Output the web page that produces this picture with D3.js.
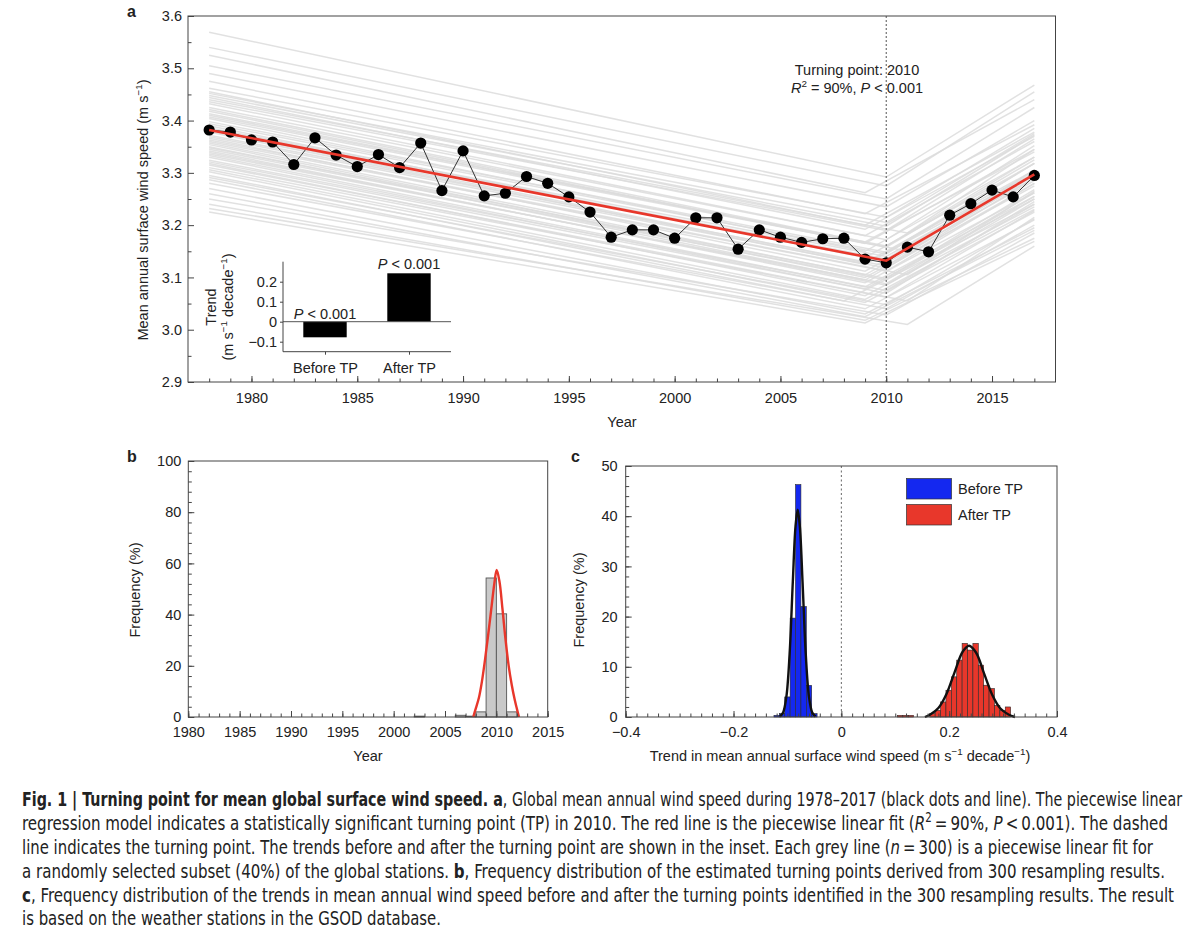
<!DOCTYPE html>
<html>
<head>
<meta charset="utf-8">
<script src="https://cdn.jsdelivr.net/npm/d3@7"></script>
<style>
body { margin: 0; background: #fff; }
svg text { font-family: "Liberation Sans", Arial, Helvetica, sans-serif; fill: #222; }
.tick text { font-size: 14.5px; }
.cap { font-family: "Liberation Sans Narrow", "DejaVu Sans Condensed", "Liberation Sans", sans-serif !important; font-size: 19.5px; }
</style>
</head>
<body>
<svg id="fig" width="1200" height="935"></svg>
<script>
// ---- panel a: global mean wind speed
var years = [1978,1979,1980,1981,1982,1983,1984,1985,1986,1987,1988,1989,1990,1991,1992,1993,1994,1995,1996,1997,
             1998,1999,2000,2001,2002,2003,2004,2005,2006,2007,2008,2009,2010,2011,2012,2013,2014,2015,2016,2017];
var windSpeed = [3.382,3.378,3.363,3.359,3.316,3.367,3.334,3.312,3.335,3.310,3.357,3.266,3.342,3.256,3.261,3.293,3.280,3.254,3.225,3.177,
                 3.191,3.191,3.175,3.214,3.214,3.154,3.191,3.177,3.167,3.174,3.175,3.135,3.128,3.158,3.149,3.219,3.241,3.267,3.254,3.295];
var fitYears = [1978, 2010, 2017];
var fitValues = [3.382, 3.132, 3.297];
var turningPoint = 2010;

// grey resampled piecewise fits (start 1978, turning point, end 2017)
var greyStart = [3.569,3.540,3.525,3.505,3.490,3.475,3.462,3.455,3.448,3.440,3.432,3.425,3.418,3.410,3.404,3.398,3.390,3.384,3.378,3.372,
                 3.366,3.360,3.354,3.348,3.342,3.336,3.330,3.324,3.318,3.310,3.302,3.295,3.287,3.280,3.270,3.260,3.250,3.240,3.225,3.232,
                 3.452,3.436,3.421,3.407,3.394,3.381,3.369,3.357,3.345,3.333,3.321,3.306,3.291,3.444,3.413,3.386,3.363,3.339,3.315,3.350];
var greyTP    = [2010,2010,2009,2010,2010,2009,2010,2009,2010,2011,2009,2010,2009,2010,2009,2010,2009,2010,2009,2010,
                 2009,2010,2009,2010,2009,2010,2009,2010,2009,2010,2009,2008,2009,2010,2009,2009,2010,2009,2009,2011,
                 2010,2010,2009,2010,2010,2009,2010,2009,2010,2009,2010,2009,2010,2009,2011,2010,2011,2010,2011,2009];
var greyTurn  = [3.292,3.275,3.262,3.250,3.235,3.222,3.215,3.200,3.198,3.185,3.180,3.172,3.165,3.160,3.150,3.148,3.138,3.135,3.125,3.122,
                 3.112,3.112,3.100,3.098,3.090,3.088,3.078,3.075,3.065,3.062,3.052,3.055,3.040,3.040,3.030,3.025,3.028,3.018,3.013,3.010,
                 3.205,3.190,3.168,3.158,3.145,3.128,3.118,3.105,3.095,3.082,3.070,3.058,3.048,3.192,3.150,3.140,3.105,3.085,3.055,3.095];
var greyEnd   = [3.468,3.455,3.440,3.425,3.400,3.392,3.385,3.378,3.372,3.345,3.360,3.352,3.345,3.330,3.330,3.318,3.318,3.305,3.300,3.295,
                 3.290,3.280,3.275,3.268,3.262,3.255,3.250,3.240,3.235,3.228,3.225,3.240,3.210,3.200,3.195,3.190,3.185,3.175,3.169,3.160,
                 3.375,3.365,3.340,3.325,3.318,3.305,3.290,3.285,3.262,3.255,3.245,3.230,3.212,3.370,3.305,3.298,3.265,3.250,3.215,3.280];

// inset
var trendLabels = ["Before TP", "After TP"];
var trendValues = [-0.078, 0.242];

// ---- panel b: turning point histogram
var tpBinStart = [2002, 2006, 2007, 2008, 2009, 2010, 2011];
var tpFreq     = [0.33, 0.67, 0.33, 2.0, 54.3, 40.3, 2.0];
var tpCurveX = [2007.75,2008.0,2008.3,2008.6,2008.9,2009.2,2009.5,2009.8,2010.03,2010.3,2010.6,2010.9,2011.2,2011.5,2011.8,2012.0,2012.2];
var tpCurveY = [0, 3.4, 7.5, 14, 22.5, 32, 42, 52, 57.4, 53, 42, 30, 20, 12.5, 6.5, 3.2, 0];

// ---- panel c: trend histograms
var binWidth = 0.01;
var beforeBinStart = [-0.125,-0.115,-0.105,-0.095,-0.085,-0.075,-0.065,-0.055];
var beforeFreq     = [0.33, 0.67, 4.0, 19.7, 46.3, 22.0, 6.3, 0.67];
var afterBinStart  = [0.104,0.114,0.124,0.164,0.174,0.184,0.194,0.204,0.214,0.224,0.234,0.244,0.254,0.264,0.274,0.284,0.294,0.304];
var afterFreq      = [0.33,0.33,0.33,0.67,1.33,3.0,5.33,8.0,11.33,14.67,13.33,14.67,10.33,6.33,5.67,2.33,1.33,2.0];
var beforeCurveX = [-0.114,-0.108,-0.102,-0.096,-0.090,-0.085,-0.081,-0.077,-0.072,-0.066,-0.060,-0.054,-0.048];
var beforeCurveY = [0.1, 0.9, 4, 12.5, 27, 38, 41.3, 38, 27, 12.5, 4, 0.9, 0.1];
var afterCurveX = [0.155,0.165,0.18,0.195,0.21,0.225,0.237,0.25,0.265,0.28,0.295,0.31,0.322];
var afterCurveY = [0, 0.5, 1.8, 4.6, 8.9, 13, 14.2, 12.8, 8.6, 4.4, 1.7, 0.5, 0];

var blue = "#1428f0", red = "#e8372b", axisCol = "#444";

var svg = d3.select("#fig");

function rich(sel, parts, fs) {
  var shift = 0;
  parts.forEach(function(p) {
    var t = sel.append("tspan").text(p[0]);
    if (p[1] === "b") t.attr("font-weight", "bold");
    if (p[1] === "i") t.attr("font-style", "italic");
    if (p[1] === "sup") { t.attr("dy", -0.42 * fs).attr("font-size", fs * 0.68); shift += 0.42 * fs; }
    else if (shift) { t.attr("dy", shift); shift = 0; }
  });
  return sel;
}

function frame(x, y) {
  svg.append("rect")
    .attr("x", x.range()[0]).attr("y", y.range()[1])
    .attr("width", x.range()[1] - x.range()[0]).attr("height", y.range()[0] - y.range()[1])
    .attr("fill", "none").attr("stroke", axisCol).attr("stroke-width", 1);
}

function axes(x, y, o) {
  var bottom = y.range()[0], left = x.range()[0];
  svg.append("g").attr("transform", "translate(0," + bottom + ")").attr("color", axisCol)
    .call(d3.axisBottom(x).tickValues(o.xMinor).tickSize(-3.5).tickFormat(""))
    .call(function(g) { g.select(".domain").remove(); });
  svg.append("g").attr("transform", "translate(0," + bottom + ")").attr("color", axisCol)
    .call(d3.axisBottom(x).tickValues(o.xMajor).tickSize(-6).tickPadding(o.xPad).tickFormat(o.xFmt))
    .call(function(g) { g.select(".domain").remove(); });
  svg.append("g").attr("transform", "translate(" + left + ",0)").attr("color", axisCol)
    .call(d3.axisLeft(y).tickValues(o.yMinor).tickSize(-3.5).tickFormat(""))
    .call(function(g) { g.select(".domain").remove(); });
  svg.append("g").attr("transform", "translate(" + left + ",0)").attr("color", axisCol)
    .call(d3.axisLeft(y).tickValues(o.yMajor).tickSize(-6).tickPadding(o.yPad).tickFormat(o.yFmt))
    .call(function(g) { g.select(".domain").remove(); });
}

var minus = function(f) { return function(d) { return f(d).replace("-", "\u2212"); }; };

// ================= panel a =================
var xA = d3.scaleLinear().domain([1977, 2018]).range([188, 1055.5]);
var yA = d3.scaleLinear().domain([2.9, 3.6]).range([382, 16]);
var lineA = d3.line().x(function(d) { return xA(d[0]); }).y(function(d) { return yA(d[1]); });

svg.append("g").selectAll("path").data(greyStart).join("path")
  .attr("d", function(s, i) { return lineA([[1978, s], [greyTP[i], greyTurn[i]], [2017, greyEnd[i]]]); })
  .attr("fill", "none").attr("stroke", "#dcdcdc").attr("stroke-width", 1.5).attr("stroke-opacity", 0.85);

svg.append("line")
  .attr("x1", xA(turningPoint)).attr("x2", xA(turningPoint))
  .attr("y1", yA.range()[1]).attr("y2", yA.range()[0])
  .attr("stroke", "#555").attr("stroke-width", 1).attr("stroke-dasharray", "2,2");

svg.append("path")
  .attr("d", lineA(years.map(function(y, i) { return [y, windSpeed[i]]; })))
  .attr("fill", "none").attr("stroke", "#333").attr("stroke-width", 1);

svg.append("g").selectAll("circle").data(years).join("circle")
  .attr("cx", function(d) { return xA(d); })
  .attr("cy", function(d, i) { return yA(windSpeed[i]); })
  .attr("r", 5.6).attr("fill", "#000");

svg.append("path")
  .attr("d", lineA(fitYears.map(function(y, i) { return [y, fitValues[i]]; })))
  .attr("fill", "none").attr("stroke", red).attr("stroke-width", 2.6);

frame(xA, yA);
axes(xA, yA, {
  xMinor: d3.range(1978, 2018), xMajor: d3.range(1980, 2016, 5), xPad: 11, xFmt: d3.format("d"),
  yMinor: d3.range(2.95, 3.6, 0.1), yMajor: d3.range(2.9, 3.65, 0.1), yPad: 6, yFmt: d3.format(".1f")
});

svg.append("text").attr("x", 127).attr("y", 17).attr("font-weight", "bold").attr("font-size", 16).text("a");
svg.append("text").attr("x", 622).attr("y", 427).attr("text-anchor", "middle").attr("font-size", 14.5).text("Year");
rich(svg.append("text").attr("transform", "translate(148,210) rotate(-90)").attr("text-anchor", "middle").attr("font-size", 14.5),
  [["Mean annual surface wind speed (m s"], ["\u22121", "sup"], [")"]], 14.5);

rich(svg.append("text").attr("x", 857).attr("y", 75).attr("text-anchor", "middle").attr("font-size", 14.5),
  [["Turning point: 2010"]], 14.5);
rich(svg.append("text").attr("x", 857).attr("y", 93).attr("text-anchor", "middle").attr("font-size", 14.5),
  [["R", "i"], ["2", "sup"], [" = 90%, "], ["P", "i"], [" < 0.001"]], 14.5);

// inset
var xIn = d3.scalePoint().domain(trendLabels).range([283, 451]).padding(0.5);
var yIn = d3.scaleLinear().domain([-0.15, 0.3]).range([351.7, 261.7]);
svg.append("g").selectAll("rect").data(trendValues).join("rect")
  .attr("x", function(d, i) { return xIn(trendLabels[i]) - 21.7; })
  .attr("width", 43.4)
  .attr("y", function(d) { return yIn(Math.max(0, d)); })
  .attr("height", function(d) { return Math.abs(yIn(d) - yIn(0)); })
  .attr("fill", "#000");
svg.append("line").attr("x1", 283).attr("x2", 451).attr("y1", yIn(0)).attr("y2", yIn(0)).attr("stroke", "#555");
svg.append("g").attr("transform", "translate(0," + yIn.range()[0] + ")").attr("color", axisCol)
  .call(d3.axisBottom(xIn).tickSize(3).tickPadding(5))
  .call(function(g) { g.select(".domain").attr("d", "M283,0H451"); g.selectAll("text").attr("dy", "0.95em"); });
svg.append("g").attr("transform", "translate(283,0)").attr("color", axisCol)
  .call(d3.axisLeft(yIn).tickValues([-0.1, 0, 0.1, 0.2]).tickSize(3).tickPadding(3)
    .tickFormat(minus(function(d) { return d === 0 ? "0" : d3.format(".1f")(d); })))
  .call(function(g) { g.select(".domain").attr("d", "M0," + yIn.range()[1] + "V" + yIn.range()[0]); });
trendValues.forEach(function(v, i) {
  rich(svg.append("text").attr("x", xIn(trendLabels[i])).attr("y", v < 0 ? yIn(0) - 3 : yIn(v) - 4)
    .attr("text-anchor", "middle").attr("font-size", 14.5), [["P", "i"], [" < 0.001"]], 14.5);
});
svg.append("text").attr("transform", "translate(216,307) rotate(-90)").attr("text-anchor", "middle").attr("font-size", 14.5).text("Trend");
rich(svg.append("text").attr("transform", "translate(233,307) rotate(-90)").attr("text-anchor", "middle").attr("font-size", 14.5),
  [["(m s"], ["\u22121", "sup"], [" decade"], ["\u22121", "sup"], [")"]], 14.5);

// ================= panel b =================
var xB = d3.scaleLinear().domain([1980, 2015]).range([188.3, 547.7]);
var yB = d3.scaleLinear().domain([0, 100]).range([717, 461]);
svg.append("g").selectAll("rect").data(tpFreq).join("rect")
  .attr("x", function(d, i) { return xB(tpBinStart[i]); })
  .attr("width", function(d, i) { return xB(tpBinStart[i] + 1) - xB(tpBinStart[i]); })
  .attr("y", function(d) { return yB(d); })
  .attr("height", function(d) { return yB(0) - yB(d); })
  .attr("fill", "#c9c9c9").attr("stroke", "#555").attr("stroke-width", 0.9);
svg.append("path")
  .attr("d", d3.line().curve(d3.curveCatmullRom).x(function(d) { return xB(d); }).y(function(d, i) { return yB(tpCurveY[i]); })(tpCurveX))
  .attr("fill", "none").attr("stroke", red).attr("stroke-width", 2.4);
frame(xB, yB);
axes(xB, yB, {
  xMinor: d3.range(1980, 2016), xMajor: d3.range(1980, 2016, 5), xPad: 10, xFmt: d3.format("d"),
  yMinor: d3.range(0, 101, 4), yMajor: d3.range(0, 101, 20), yPad: 7, yFmt: d3.format("d")
});
svg.append("text").attr("x", 127).attr("y", 462).attr("font-weight", "bold").attr("font-size", 16).text("b");
svg.append("text").attr("x", 368).attr("y", 761).attr("text-anchor", "middle").attr("font-size", 14.5).text("Year");
svg.append("text").attr("transform", "translate(140,590) rotate(-90)").attr("text-anchor", "middle").attr("font-size", 14.5).text("Frequency (%)");

// ================= panel c =================
var xC = d3.scaleLinear().domain([-0.4, 0.4]).range([625.7, 1057]);
var yC = d3.scaleLinear().domain([0, 50]).range([717, 466]);
svg.append("line").attr("x1", xC(0)).attr("x2", xC(0)).attr("y1", yC.range()[1]).attr("y2", yC.range()[0])
  .attr("stroke", "#666").attr("stroke-width", 1).attr("stroke-dasharray", "2,2.5");
function hist(starts, freqs, col) {
  svg.append("g").selectAll("rect").data(freqs).join("rect")
    .attr("x", function(d, i) { return xC(starts[i]); })
    .attr("width", function(d, i) { return xC(starts[i] + binWidth) - xC(starts[i]); })
    .attr("y", function(d) { return yC(d); })
    .attr("height", function(d) { return yC(0) - yC(d); })
    .attr("fill", col).attr("stroke", "#2a2a2a").attr("stroke-width", 0.6);
}
hist(beforeBinStart, beforeFreq, blue);
hist(afterBinStart, afterFreq, red);
function curveC(xs, ys) {
  svg.append("path")
    .attr("d", d3.line().curve(d3.curveCatmullRom).x(function(d) { return xC(d); }).y(function(d, i) { return yC(ys[i]); })(xs))
    .attr("fill", "none").attr("stroke", "#111").attr("stroke-width", 2.4);
}
curveC(beforeCurveX, beforeCurveY);
curveC(afterCurveX, afterCurveY);
frame(xC, yC);
axes(xC, yC, {
  xMinor: d3.range(-0.4, 0.401, 0.02), xMajor: [-0.4, -0.2, 0, 0.2, 0.4], xPad: 10,
  xFmt: minus(function(d) { return d === 0 ? "0" : d3.format(".1f")(d); }),
  yMinor: d3.range(0, 51, 2), yMajor: d3.range(0, 51, 10), yPad: 8, yFmt: d3.format("d")
});
var legend = [["Before TP", blue], ["After TP", red]];
legend.forEach(function(l, i) {
  svg.append("rect").attr("x", 906.5).attr("y", 478.5 + i * 26).attr("width", 45).attr("height", 20.5)
    .attr("fill", l[1]).attr("stroke", "#333").attr("stroke-width", 0.7);
  svg.append("text").attr("x", 958).attr("y", 494 + i * 26).attr("font-size", 14.5).text(l[0]);
});
svg.append("text").attr("x", 571).attr("y", 462).attr("font-weight", "bold").attr("font-size", 16).text("c");
svg.append("text").attr("transform", "translate(584,600) rotate(-90)").attr("text-anchor", "middle").attr("font-size", 14.5).text("Frequency (%)");
rich(svg.append("text").attr("x", 840).attr("y", 761).attr("text-anchor", "middle").attr("font-size", 14.5),
  [["Trend in mean annual surface wind speed (m s"], ["\u22121", "sup"], [" decade"], ["\u22121", "sup"], [")"]], 14.5);

// ================= caption =================
var capLines = [
  { y: 806, w: 1160, parts: [["Fig. 1 | Turning point for mean global surface wind speed. a", "b"], [", Global mean annual wind speed during 1978\u20132017 (black dots and line). The piecewise linear"]] },
  { y: 830, w: 1146, parts: [["regression model indicates a statistically significant turning point (TP) in 2010. The red line is the piecewise linear fit ("], ["R", "i"], ["2", "sup"], ["\u2009=\u200990%, "], ["P", "i"], ["\u2009<\u20090.001). The dashed"]] },
  { y: 854, w: 1131, parts: [["line indicates the turning point. The trends before and after the turning point are shown in the inset. Each grey line ("], ["n", "i"], ["\u2009=\u2009300) is a piecewise linear fit for"]] },
  { y: 878, w: 1143, parts: [["a randomly selected subset (40%) of the global stations. "], ["b", "b"], [", Frequency distribution of the estimated turning points derived from 300 resampling results."]] },
  { y: 902, w: 1152, parts: [["c", "b"], [", Frequency distribution of the trends in mean annual wind speed before and after the turning points identified in the 300 resampling results. The result"]] },
  { y: 925, w: 419, parts: [["is based on the weather stations in the GSOD database."]] }
];
capLines.forEach(function(c) {
  rich(svg.append("text").attr("class", "cap").attr("x", 22).attr("y", c.y)
    .attr("textLength", c.w).attr("lengthAdjust", "spacingAndGlyphs"), c.parts, 19.5);
});
</script>
</body>
</html>
